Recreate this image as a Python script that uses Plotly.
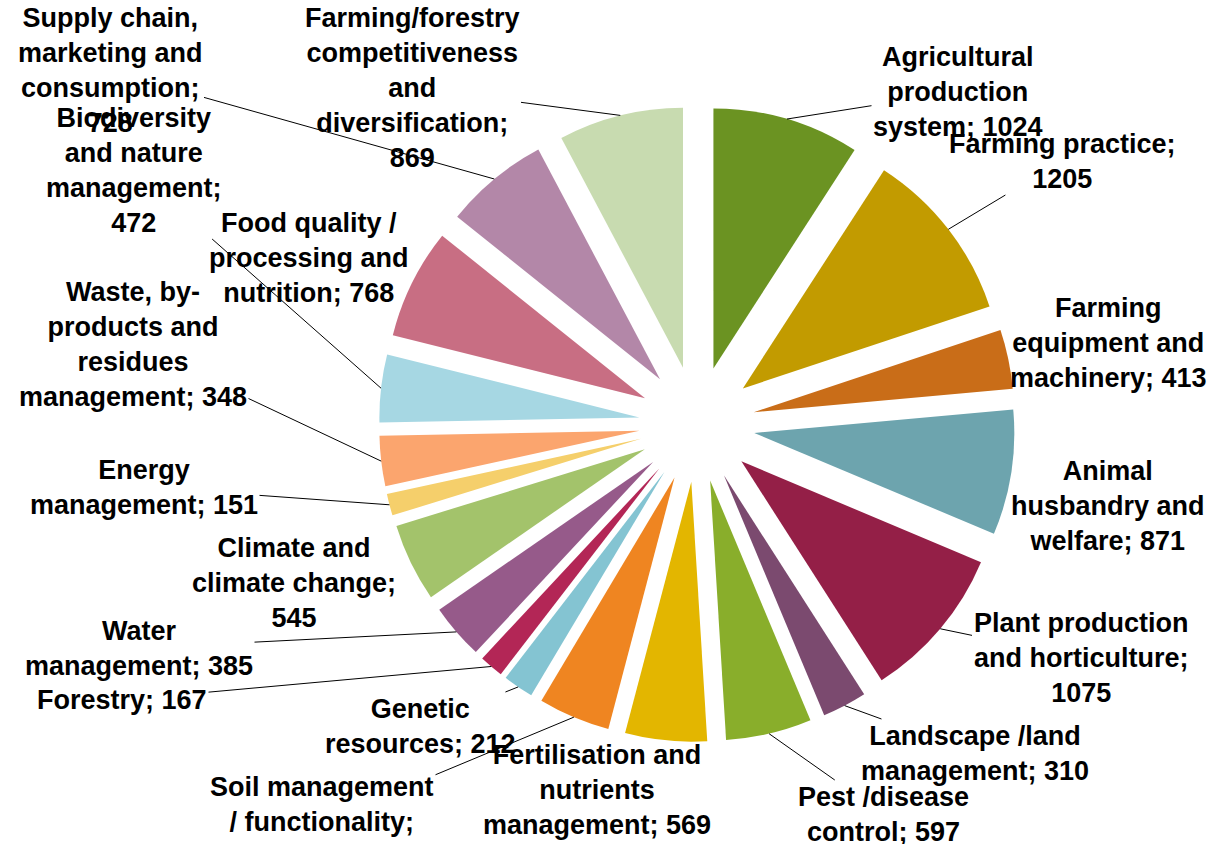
import math
import plotly.graph_objects as go

# ---------------- data ----------------
categories = [
    "Agricultural production system",
    "Farming practice",
    "Farming equipment and machinery",
    "Animal husbandry and welfare",
    "Plant production and horticulture",
    "Landscape /land management",
    "Pest /disease control",
    "Fertilisation and nutrients management",
    "Soil management / functionality",
    "Genetic resources",
    "Forestry",
    "Water management",
    "Climate and climate change",
    "Energy management",
    "Waste, by-products and residues management",
    "Biodiversity and nature management",
    "Food quality / processing and nutrition",
    "Supply chain, marketing and consumption",
    "Farming/forestry competitiveness and diversification",
]
values = [1024, 1205, 413, 871, 1075, 310, 597, 569, 500, 212,
          167, 385, 545, 151, 348, 472, 768, 728, 869]

# wrapped display labels ({v} = value)
label_templates = [
    "Agricultural<br>production<br>system; {v}",
    "Farming practice;<br>{v}",
    "Farming<br>equipment and<br>machinery; {v}",
    "Animal<br>husbandry and<br>welfare; {v}",
    "Plant production<br>and horticulture;<br>{v}",
    "Landscape /land<br>management; {v}",
    "Pest /disease<br>control; {v}",
    "Fertilisation and<br>nutrients<br>management; {v}",
    "Soil management<br>/ functionality;<br>{v}",
    "Genetic<br>resources; {v}",
    "Forestry; {v}",
    "Water<br>management; {v}",
    "Climate and<br>climate change;<br>{v}",
    "Energy<br>management; {v}",
    "Waste, by-<br>products and<br>residues<br>management; {v}",
    "Biodiversity<br>and nature<br>management;<br>{v}",
    "Food quality /<br>processing and<br>nutrition; {v}",
    "Supply chain,<br>marketing and<br>consumption;<br>{v}",
    "Farming/forestry<br>competitiveness<br>and<br>diversification;<br>{v}",
]

colors = [
    "#6B9322", "#C29B00", "#C96D18", "#6DA4AE", "#941F47", "#7B4A6F",
    "#89AE2B", "#E3B600", "#EF8521", "#84C4D2", "#B32656", "#965A8A",
    "#A3C36B", "#F5CF6B", "#FBA56E", "#A6D7E3", "#C86E83", "#B387A8",
    "#C8DBB0",
]

# ---------------- layout / style ----------------
W, H = 1216, 844
CX, CY = 697, 424        # pie centre in px
R = 260                  # pie radius in px
PULL = 0.223             # explosion (fraction of radius)
FONT_SIZE = 27

# label text centres (px) and whether a leader line is drawn
label_pos = [
    (958, 92), (1062, 161), (1108, 343), (1108, 506), (1081, 658),
    (975, 753), (883, 814), (597, 790), (322, 822), (420, 726),
    (122, 700), (139, 648), (294, 583), (144, 487), (133, 344),
    (134, 170), (309, 258), (110, 71), (412, 88),
]
leader = [True, True, False, False, True, True, True, False, True, True,
          True, True, False, True, True, True, False, True, True]

box = 2 * R * (1 + PULL)
dom_x = [(CX - box / 2) / W, (CX + box / 2) / W]
dom_y = [1 - (CY + box / 2) / H, 1 - (CY - box / 2) / H]

fig = go.Figure(go.Pie(
    labels=categories,
    values=values,
    sort=False,
    direction="clockwise",
    rotation=0,
    pull=[PULL] * len(values),
    marker=dict(colors=colors, line=dict(width=0)),
    textinfo="none",
    hoverinfo="label+value",
    showlegend=False,
    domain=dict(x=dom_x, y=dom_y),
))

total = sum(values)
annotations = []
cum = 0
font = dict(family="Liberation Sans, Arial, sans-serif", size=FONT_SIZE,
            color="black", weight="bold")
for i, v in enumerate(values):
    mid = (cum + v / 2) / total * 2 * math.pi
    cum += v
    px = CX + R * (1 + PULL) * math.sin(mid)
    py = CY - R * (1 + PULL) * math.cos(mid)
    lx, ly = label_pos[i]
    text = label_templates[i].format(v=v)
    if leader[i]:
        annotations.append(dict(
            x=px / W, y=1 - py / H, xref="paper", yref="paper",
            text=text, showarrow=True, ax=lx - px, ay=ly - py,
            arrowhead=0, arrowwidth=1, arrowcolor="black", standoff=0,
            align="center", font=font,
        ))
    else:
        annotations.append(dict(
            x=lx / W, y=1 - ly / H, xref="paper", yref="paper",
            text=text, showarrow=False, xanchor="center", yanchor="middle",
            align="center", font=font,
        ))

fig.update_layout(
    width=W, height=H,
    margin=dict(l=0, r=0, t=0, b=0),
    paper_bgcolor="white",
    plot_bgcolor="white",
    annotations=annotations,
)

fig.write_html("out.html",
               config={"displayModeBar": False},
               post_script="document.body.style.margin='0';document.body.style.overflow='hidden';")
